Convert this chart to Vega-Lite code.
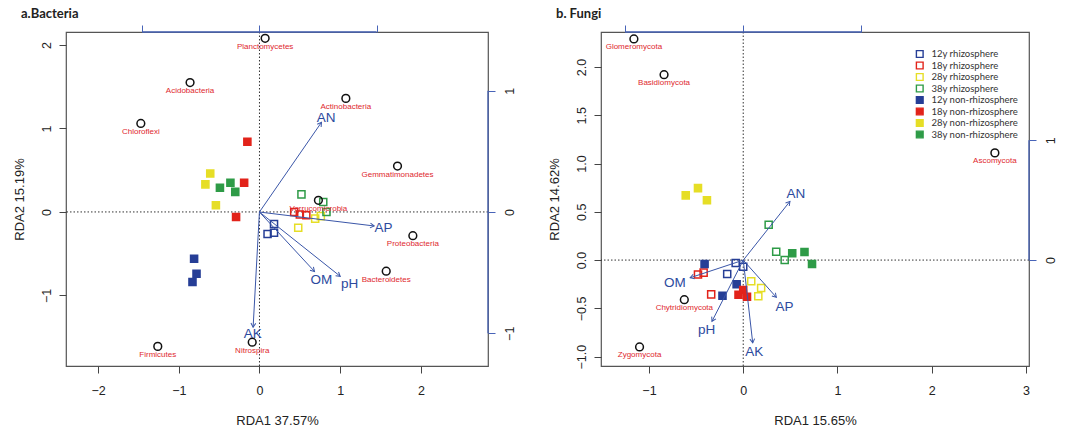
{
  "$schema": "https://vega.github.io/schema/vega-lite/v6.json",
  "padding": {"left": 12, "top": 6, "right": 0, "bottom": 0},
  "spacing": 30,
  "background": "white",
  "datasets": {
    "zero": [{"z": 0}],
    "bacSamples": [
      {"g": "12y rhizosphere", "x": 0.18, "y": -0.145},
      {"g": "12y rhizosphere", "x": 0.10, "y": -0.265},
      {"g": "12y rhizosphere", "x": 0.18, "y": -0.25},
      {"g": "18y rhizosphere", "x": 0.43, "y": 0.0},
      {"g": "18y rhizosphere", "x": 0.50, "y": -0.03},
      {"g": "18y rhizosphere", "x": 0.58, "y": -0.04},
      {"g": "28y rhizosphere", "x": 0.69, "y": -0.08},
      {"g": "28y rhizosphere", "x": 0.76, "y": -0.05},
      {"g": "28y rhizosphere", "x": 0.48, "y": -0.19},
      {"g": "38y rhizosphere", "x": 0.52, "y": 0.21},
      {"g": "38y rhizosphere", "x": 0.79, "y": 0.12},
      {"g": "38y rhizosphere", "x": 0.83, "y": 0.0},
      {"g": "12y non-rhizosphere", "x": -0.81, "y": -0.56},
      {"g": "12y non-rhizosphere", "x": -0.78, "y": -0.74},
      {"g": "12y non-rhizosphere", "x": -0.83, "y": -0.84},
      {"g": "18y non-rhizosphere", "x": -0.15, "y": 0.84},
      {"g": "18y non-rhizosphere", "x": -0.19, "y": 0.35},
      {"g": "18y non-rhizosphere", "x": -0.29, "y": -0.06},
      {"g": "28y non-rhizosphere", "x": -0.61, "y": 0.46},
      {"g": "28y non-rhizosphere", "x": -0.67, "y": 0.33},
      {"g": "28y non-rhizosphere", "x": -0.54, "y": 0.08},
      {"g": "38y non-rhizosphere", "x": -0.49, "y": 0.29},
      {"g": "38y non-rhizosphere", "x": -0.36, "y": 0.35},
      {"g": "38y non-rhizosphere", "x": -0.30, "y": 0.24}
    ],
    "bacSpecies": [
      {"name": "Planctomycetes", "x": 0.07, "y": 2.08},
      {"name": "Acidobacteria", "x": -0.86, "y": 1.55},
      {"name": "Chloroflexi", "x": -1.47, "y": 1.06},
      {"name": "Actinobacteria", "x": 1.07, "y": 1.36},
      {"name": "Gemmatimonadetes", "x": 1.71, "y": 0.55},
      {"name": "Verrucomicrobia", "x": 0.73, "y": 0.14},
      {"name": "Proteobacteria", "x": 1.90, "y": -0.285},
      {"name": "Bacteroidetes", "x": 1.57, "y": -0.71},
      {"name": "Nitrospira", "x": -0.09, "y": -1.56},
      {"name": "Firmicutes", "x": -1.26, "y": -1.61}
    ],
    "bacEnv": [
      {"v": "AN", "ox": 0, "oy": 0, "x": 0.53, "y": 0.74, "lx": 0.57, "ly": 0.775},
      {"v": "AP", "ox": 0, "oy": 0, "x": 0.98, "y": -0.115, "lx": 1.06, "ly": -0.135},
      {"v": "OM", "ox": 0, "oy": 0, "x": 0.47, "y": -0.49, "lx": 0.53, "ly": -0.56},
      {"v": "pH", "ox": 0, "oy": 0, "x": 0.69, "y": -0.53, "lx": 0.77, "ly": -0.59},
      {"v": "AK", "ox": 0, "oy": 0, "x": -0.054, "y": -0.95, "lx": -0.057, "ly": -1.01}
    ],
    "funSamples": [
      {"g": "12y rhizosphere", "x": -0.08, "y": -0.03},
      {"g": "12y rhizosphere", "x": 0.0, "y": -0.07},
      {"g": "12y rhizosphere", "x": -0.17, "y": -0.145},
      {"g": "18y rhizosphere", "x": -0.48, "y": -0.15},
      {"g": "18y rhizosphere", "x": -0.42, "y": -0.13},
      {"g": "18y rhizosphere", "x": -0.34, "y": -0.355},
      {"g": "28y rhizosphere", "x": 0.085, "y": -0.22},
      {"g": "28y rhizosphere", "x": 0.19, "y": -0.29},
      {"g": "28y rhizosphere", "x": 0.16, "y": -0.375},
      {"g": "38y rhizosphere", "x": 0.27, "y": 0.365},
      {"g": "38y rhizosphere", "x": 0.35, "y": 0.086},
      {"g": "38y rhizosphere", "x": 0.44, "y": 0.0},
      {"g": "12y non-rhizosphere", "x": -0.41, "y": -0.04},
      {"g": "12y non-rhizosphere", "x": -0.07, "y": -0.25},
      {"g": "12y non-rhizosphere", "x": -0.22, "y": -0.37},
      {"g": "18y non-rhizosphere", "x": 0.0, "y": -0.31},
      {"g": "18y non-rhizosphere", "x": -0.05, "y": -0.36},
      {"g": "18y non-rhizosphere", "x": 0.04, "y": -0.38},
      {"g": "28y non-rhizosphere", "x": -0.61, "y": 0.67},
      {"g": "28y non-rhizosphere", "x": -0.48, "y": 0.745},
      {"g": "28y non-rhizosphere", "x": -0.385, "y": 0.62},
      {"g": "38y non-rhizosphere", "x": 0.52, "y": 0.07},
      {"g": "38y non-rhizosphere", "x": 0.65, "y": 0.083},
      {"g": "38y non-rhizosphere", "x": 0.73, "y": -0.04}
    ],
    "funSpecies": [
      {"name": "Glomeromycota", "x": -1.16, "y": 2.29},
      {"name": "Basidiomycota", "x": -0.84, "y": 1.92},
      {"name": "Ascomycota", "x": 2.67, "y": 1.11},
      {"name": "Chytridiomycota", "x": -0.625, "y": -0.41},
      {"name": "Zygomycota", "x": -1.10, "y": -0.90}
    ],
    "funEnv": [
      {"v": "AN", "ox": 0, "oy": 0, "x": 0.395, "y": 0.49, "lx": 0.445, "ly": 0.555},
      {"v": "AP", "ox": 0, "oy": 0, "x": 0.28, "y": -0.31, "lx": 0.35, "ly": -0.39},
      {"v": "OM", "ox": 0, "oy": 0, "x": -0.45, "y": -0.147, "lx": -0.58, "ly": -0.19},
      {"v": "pH", "ox": 0, "oy": 0, "x": -0.265, "y": -0.51, "lx": -0.31, "ly": -0.58},
      {"v": "AK", "ox": 0, "oy": 0, "x": 0.08, "y": -0.69, "lx": 0.093, "ly": -0.77}
    ],
    "bacTop": [{"a": -1, "b": 1, "edge": 1.485}],
    "bacRight": [{"a": -1, "b": 1, "edge": 1.952}],
    "funTop": [{"a": -1, "b": 1, "edge": 1.903}],
    "funRight": [{"a": 0, "b": 1, "edge": 2.42}]
  },
  "resolve": {"scale": {"color": "independent", "fill": "independent"}},
  "hconcat": [
    {
      "width": 422,
      "height": 334,
      "title": {"text": "a.Bacteria", "anchor": "start", "frame": "bounds", "dx": 8, "offset": 4, "font": "Lato", "fontSize": 13, "fontWeight": "bold", "color": "#222"},
      "resolve": {"scale": {"x": "independent", "y": "independent"}},
      "layer": [
        {
          "layer": [
            {
              "data": {"name": "zero"},
              "mark": {"type": "rule", "strokeDash": [1.5, 2], "color": "#333", "strokeWidth": 1},
              "encoding": {"y": {"field": "z", "type": "quantitative", "scale": {"domain": [-1.845, 2.155], "nice": false, "zero": false}, "axis": {"values": [-1, 0, 1, 2], "format": "d", "orient": "left"}, "title": "RDA2  15.19%"}}
            },
            {
              "data": {"name": "zero"},
              "mark": {"type": "rule", "strokeDash": [1.5, 2], "color": "#333", "strokeWidth": 1},
              "encoding": {"x": {"field": "z", "type": "quantitative", "scale": {"domain": [-2.397, 2.831], "nice": false, "zero": false}, "axis": {"values": [-2, -1, 0, 1, 2], "format": "d", "orient": "bottom"}, "title": "RDA1  37.57%"}}
            },
            {
              "data": {"name": "bacSamples"},
              "mark": {"type": "point", "shape": "square", "size": 50, "strokeWidth": 1.5, "opacity": 1},
              "encoding": {
                "x": {"field": "x", "type": "quantitative", "title": "RDA1  37.57%"},
                "y": {"field": "y", "type": "quantitative", "title": "RDA2  15.19%"},
                "color": {"field": "g", "type": "nominal", "legend": null,
                  "scale": {"domain": ["12y rhizosphere", "18y rhizosphere", "28y rhizosphere", "38y rhizosphere", "12y non-rhizosphere", "18y non-rhizosphere", "28y non-rhizosphere", "38y non-rhizosphere"],
                            "range": ["#263E96", "#E2231A", "#E6DE26", "#2E9B47", "#263E96", "#E2231A", "#E6DE26", "#2E9B47"]}},
                "fill": {"field": "g", "type": "nominal", "legend": null,
                  "scale": {"domain": ["12y rhizosphere", "18y rhizosphere", "28y rhizosphere", "38y rhizosphere", "12y non-rhizosphere", "18y non-rhizosphere", "28y non-rhizosphere", "38y non-rhizosphere"],
                            "range": ["transparent", "transparent", "transparent", "transparent", "#263E96", "#E2231A", "#E6DE26", "#2E9B47"]}}
              }
            },
            {
              "data": {"name": "bacSpecies"},
              "mark": {"type": "point", "shape": "circle", "size": 60, "strokeWidth": 1.5, "color": "#111", "filled": false, "opacity": 1},
              "encoding": {
                "x": {"field": "x", "type": "quantitative"},
                "y": {"field": "y", "type": "quantitative"}
              }
            },
            {
              "data": {"name": "bacSpecies"},
              "mark": {"type": "text", "dy": 8.5, "fontSize": 8, "font": "Liberation Sans", "color": "#E0282E", "baseline": "middle"},
              "encoding": {
                "x": {"field": "x", "type": "quantitative"},
                "y": {"field": "y", "type": "quantitative"},
                "text": {"field": "name"}
              }
            }
          ]
        },
        {
          "layer": [
            {
              "data": {"name": "bacEnv"},
              "mark": {"type": "rule", "color": "#3A56A8", "strokeWidth": 1},
              "encoding": {
                "x": {"field": "ox", "type": "quantitative", "scale": {"domain": [-1.652, 1.952], "nice": false, "zero": false}, "axis": {"orient": "top", "values": [-1, 0, 1], "labels": false, "title": null}},
                "y": {"field": "oy", "type": "quantitative", "scale": {"domain": [-1.27, 1.485], "nice": false, "zero": false}, "axis": {"orient": "right", "values": [-1, 0, 1], "format": "d", "title": null}},
                "x2": {"field": "x"},
                "y2": {"field": "y"}
              }
            },
            {
              "data": {"name": "bacEnv"},
              "transform": [{"calculate": "atan2(-datum.y, datum.x) * 180 / PI", "as": "ang"}],
              "mark": {"type": "point", "shape": "M-1,-0.6L0,0L-1,0.6", "size": 64, "filled": false, "color": "#3A56A8", "strokeWidth": 1, "opacity": 1},
              "encoding": {
                "x": {"field": "x", "type": "quantitative"},
                "y": {"field": "y", "type": "quantitative"},
                "angle": {"field": "ang", "type": "quantitative", "scale": null}
              }
            },
            {
              "data": {"name": "bacEnv"},
              "mark": {"type": "text", "fontSize": 13.5, "font": "Liberation Sans", "color": "#2C4A9E", "baseline": "middle"},
              "encoding": {
                "x": {"field": "lx", "type": "quantitative"},
                "y": {"field": "ly", "type": "quantitative"},
                "text": {"field": "v"}
              }
            },
            {
              "data": {"name": "bacTop"},
              "mark": {"type": "rule", "color": "#4864B8", "strokeWidth": 1.3},
              "encoding": {
                "x": {"field": "a", "type": "quantitative"},
                "x2": {"field": "b"},
                "y": {"field": "edge", "type": "quantitative"}
              }
            },
            {
              "data": {"name": "bacRight"},
              "mark": {"type": "rule", "color": "#4864B8", "strokeWidth": 1.3},
              "encoding": {
                "y": {"field": "a", "type": "quantitative"},
                "y2": {"field": "b"},
                "x": {"field": "edge", "type": "quantitative"}
              }
            }
          ]
        }
      ]
    },
    {
      "width": 428,
      "height": 334,
      "title": {"text": "b. Fungi", "anchor": "start", "frame": "bounds", "dx": 8, "offset": 4, "font": "Lato", "fontSize": 13, "fontWeight": "bold", "color": "#222"},
      "resolve": {"scale": {"x": "independent", "y": "independent"}},
      "layer": [
        {
          "layer": [
            {
              "data": {"name": "zero"},
              "mark": {"type": "rule", "strokeDash": [1.5, 2], "color": "#333", "strokeWidth": 1},
              "encoding": {"y": {"field": "z", "type": "quantitative", "scale": {"domain": [-1.097, 2.362], "nice": false, "zero": false}, "axis": {"values": [-1, -0.5, 0, 0.5, 1, 1.5, 2], "format": ".1f", "orient": "left"}, "title": "RDA2  14.62%"}}
            },
            {
              "data": {"name": "zero"},
              "mark": {"type": "rule", "strokeDash": [1.5, 2], "color": "#333", "strokeWidth": 1},
              "encoding": {"x": {"field": "z", "type": "quantitative", "scale": {"domain": [-1.509, 3.032], "nice": false, "zero": false}, "axis": {"values": [-1, 0, 1, 2, 3], "format": "d", "orient": "bottom"}, "title": "RDA1  15.65%"}}
            },
            {
              "data": {"name": "funSamples"},
              "mark": {"type": "point", "shape": "square", "size": 50, "strokeWidth": 1.5, "opacity": 1},
              "encoding": {
                "x": {"field": "x", "type": "quantitative", "title": "RDA1  15.65%"},
                "y": {"field": "y", "type": "quantitative", "title": "RDA2  14.62%"},
                "color": {"field": "g", "type": "nominal", "title": null,
                  "legend": {"orient": "none", "legendX": 314, "legendY": 17, "symbolType": "square", "symbolSize": 45, "symbolStrokeWidth": 1.4, "labelFont": "Lato", "labelFontSize": 9.5, "labelColor": "#333", "rowPadding": 1.5, "clipHeight": 10, "labelOffset": 7},
                  "scale": {"domain": ["12y rhizosphere", "18y rhizosphere", "28y rhizosphere", "38y rhizosphere", "12y non-rhizosphere", "18y non-rhizosphere", "28y non-rhizosphere", "38y non-rhizosphere"],
                            "range": ["#263E96", "#E2231A", "#E6DE26", "#2E9B47", "#263E96", "#E2231A", "#E6DE26", "#2E9B47"]}},
                "fill": {"field": "g", "type": "nominal", "title": null,
                  "legend": {"orient": "none", "legendX": 314, "legendY": 17, "symbolType": "square", "symbolSize": 45, "symbolStrokeWidth": 1.4, "labelFont": "Lato", "labelFontSize": 9.5, "labelColor": "#333", "rowPadding": 1.5, "clipHeight": 10, "labelOffset": 7},
                  "scale": {"domain": ["12y rhizosphere", "18y rhizosphere", "28y rhizosphere", "38y rhizosphere", "12y non-rhizosphere", "18y non-rhizosphere", "28y non-rhizosphere", "38y non-rhizosphere"],
                            "range": ["transparent", "transparent", "transparent", "transparent", "#263E96", "#E2231A", "#E6DE26", "#2E9B47"]}}
              }
            },
            {
              "data": {"name": "funSpecies"},
              "mark": {"type": "point", "shape": "circle", "size": 60, "strokeWidth": 1.5, "color": "#111", "filled": false, "opacity": 1},
              "encoding": {
                "x": {"field": "x", "type": "quantitative"},
                "y": {"field": "y", "type": "quantitative"}
              }
            },
            {
              "data": {"name": "funSpecies"},
              "mark": {"type": "text", "dy": 8.5, "fontSize": 8, "font": "Liberation Sans", "color": "#E0282E", "baseline": "middle"},
              "encoding": {
                "x": {"field": "x", "type": "quantitative"},
                "y": {"field": "y", "type": "quantitative"},
                "text": {"field": "name"}
              }
            }
          ]
        },
        {
          "layer": [
            {
              "data": {"name": "funEnv"},
              "mark": {"type": "rule", "color": "#3A56A8", "strokeWidth": 1},
              "encoding": {
                "x": {"field": "ox", "type": "quantitative", "scale": {"domain": [-1.205, 2.42], "nice": false, "zero": false}, "axis": {"orient": "top", "values": [-1, 0, 1], "labels": false, "title": null}},
                "y": {"field": "oy", "type": "quantitative", "scale": {"domain": [-0.883, 1.903], "nice": false, "zero": false}, "axis": {"orient": "right", "values": [0, 1], "format": "d", "title": null}},
                "x2": {"field": "x"},
                "y2": {"field": "y"}
              }
            },
            {
              "data": {"name": "funEnv"},
              "transform": [{"calculate": "atan2(-datum.y, datum.x) * 180 / PI", "as": "ang"}],
              "mark": {"type": "point", "shape": "M-1,-0.6L0,0L-1,0.6", "size": 64, "filled": false, "color": "#3A56A8", "strokeWidth": 1, "opacity": 1},
              "encoding": {
                "x": {"field": "x", "type": "quantitative"},
                "y": {"field": "y", "type": "quantitative"},
                "angle": {"field": "ang", "type": "quantitative", "scale": null}
              }
            },
            {
              "data": {"name": "funEnv"},
              "mark": {"type": "text", "fontSize": 13.5, "font": "Liberation Sans", "color": "#2C4A9E", "baseline": "middle"},
              "encoding": {
                "x": {"field": "lx", "type": "quantitative"},
                "y": {"field": "ly", "type": "quantitative"},
                "text": {"field": "v"}
              }
            },
            {
              "data": {"name": "funTop"},
              "mark": {"type": "rule", "color": "#4864B8", "strokeWidth": 1.3},
              "encoding": {
                "x": {"field": "a", "type": "quantitative"},
                "x2": {"field": "b"},
                "y": {"field": "edge", "type": "quantitative"}
              }
            },
            {
              "data": {"name": "funRight"},
              "mark": {"type": "rule", "color": "#4864B8", "strokeWidth": 1.3},
              "encoding": {
                "y": {"field": "a", "type": "quantitative"},
                "y2": {"field": "b"},
                "x": {"field": "edge", "type": "quantitative"}
              }
            }
          ]
        }
      ]
    }
  ],
  "config": {
    "view": {"stroke": "#555", "strokeWidth": 1.2},
    "axis": {"domain": false, "grid": false, "tickColor": "#444", "tickSize": 7, "tickWidth": 1, "labelFont": "Liberation Sans", "labelFontSize": 12.5, "labelColor": "#222", "titleFont": "Liberation Sans", "titleFontSize": 13, "titleFontWeight": "normal", "titleColor": "#222"},
    "axisLeft": {"labelAngle": -90, "labelAlign": "center", "labelBaseline": "bottom", "labelPadding": 6, "titlePadding": 14},
    "axisBottom": {"labelPadding": 11, "titlePadding": 18},
    "axisTop": {"tickColor": "#4864B8", "labels": false},
    "axisRight": {"tickColor": "#4864B8", "labelAngle": -90, "labelAlign": "center", "labelBaseline": "top", "labelPadding": 8}
  }
}
